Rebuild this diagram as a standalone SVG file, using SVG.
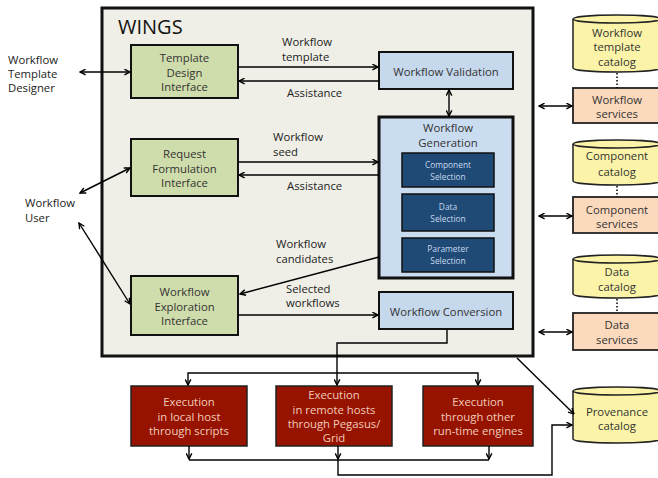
<svg xmlns="http://www.w3.org/2000/svg" width="658" height="478" viewBox="0 0 658 478">
<defs>
<marker id="ah" viewBox="0 0 10 10" refX="9" refY="5" markerWidth="7" markerHeight="7" markerUnits="userSpaceOnUse" orient="auto-start-reverse">
<path d="M1,1 L9,5 L1,9" fill="none" stroke="#000" stroke-width="2"/>
</marker>
<style>
text{font-family:"Open Sans","Liberation Sans",sans-serif;font-size:11.3px;fill:#333}
.c{text-anchor:middle}
.lbl{fill:#222}
.sm{font-size:8.4px;fill:#c9d8ee}
.ex{fill:#f3cbbd;font-size:11.3px}
.line{fill:none;stroke:#000;stroke-width:1.4}
.arr{marker-end:url(#ah)}
.dbl{marker-start:url(#ah);marker-end:url(#ah)}
.green{fill:#cfdcab;stroke:#111;stroke-width:2}
.blue{fill:#c6d8ec;stroke:#111;stroke-width:2}
.dark{fill:#1e4a75;stroke:#111;stroke-width:1.5}
.red{fill:#961300;stroke:#222;stroke-width:1.5}
.cyl{fill:#fbf4a8;stroke:#222;stroke-width:1.5}
.svc{fill:#fbd9bd;stroke:#222;stroke-width:1.8}
.dot{stroke:#000;stroke-width:1.5;stroke-dasharray:1.5,2}
</style>
</defs>
<rect width="658" height="478" fill="#fff"/>

<g id="wings">
<rect x="102" y="8" width="431" height="348" fill="#efefe7" stroke="#111" stroke-width="3"/>
<text x="118" y="34" style="font-size:20px;fill:#111">WINGS</text>
</g>

<g id="actor-designer">
<text x="8" y="64" class="lbl">Workflow</text>
<text x="8" y="78" class="lbl">Template</text>
<text x="8" y="92" class="lbl">Designer</text>
</g>
<g id="actor-user">
<text x="25" y="207" class="lbl">Workflow</text>
<text x="25" y="222" class="lbl">User</text>
</g>

<g id="template-design">
<rect x="131" y="45" width="107" height="53" class="green"/>
<text x="184.5" y="62" class="c">Template</text>
<text x="184.5" y="77" class="c">Design</text>
<text x="184.5" y="91" class="c">Interface</text>
</g>
<g id="request-formulation">
<rect x="131" y="139" width="107" height="57" class="green"/>
<text x="184.5" y="158" class="c">Request</text>
<text x="184.5" y="173" class="c">Formulation</text>
<text x="184.5" y="187" class="c">Interface</text>
</g>
<g id="workflow-exploration">
<rect x="131" y="276" width="107" height="59" class="green"/>
<text x="184.5" y="296" class="c">Workflow</text>
<text x="184.5" y="311" class="c">Exploration</text>
<text x="184.5" y="325" class="c">Interface</text>
</g>

<g id="workflow-validation">
<rect x="379" y="52" width="134" height="37" class="blue"/>
<text x="446" y="76" class="c">Workflow Validation</text>
</g>
<g id="workflow-generation">
<rect x="379" y="117" width="134" height="161" fill="#cadcf0" stroke="#111" stroke-width="3"/>
<text x="448" y="132" class="c">Workflow</text>
<text x="448" y="147" class="c">Generation</text>
</g>
<g id="component-selection">
<rect x="402" y="153" width="92" height="34" class="dark"/>
<text x="448" y="168" class="c sm">Component</text>
<text x="448" y="179.5" class="c sm">Selection</text>
</g>
<g id="data-selection">
<rect x="402" y="194" width="92" height="37" class="dark"/>
<text x="448" y="210" class="c sm">Data</text>
<text x="448" y="221.5" class="c sm">Selection</text>
</g>
<g id="parameter-selection">
<rect x="402" y="238" width="92" height="34" class="dark"/>
<text x="448" y="252" class="c sm">Parameter</text>
<text x="448" y="263.5" class="c sm">Selection</text>
</g>
<g id="workflow-conversion">
<rect x="379" y="292" width="134" height="37" class="blue"/>
<text x="446" y="316" class="c">Workflow Conversion</text>
</g>

<g id="exec-local">
<rect x="131" y="386" width="116" height="60" class="red"/>
<text x="189" y="406" class="c ex">Execution</text>
<text x="189" y="421" class="c ex">in local host</text>
<text x="189" y="435" class="c ex">through scripts</text>
</g>
<g id="exec-remote">
<rect x="276" y="386" width="116" height="60" class="red"/>
<text x="334" y="399" class="c ex">Execution</text>
<text x="334" y="414" class="c ex">in remote hosts</text>
<text x="334" y="428" class="c ex">through Pegasus/</text>
<text x="334" y="442" class="c ex">Grid</text>
</g>
<g id="exec-other">
<rect x="423" y="386" width="110" height="60" class="red"/>
<text x="478" y="406" class="c ex">Execution</text>
<text x="478" y="421" class="c ex">through other</text>
<text x="478" y="435" class="c ex">run-time engines</text>
</g>

<g id="workflow-template-catalog">
<path d="M573,19 A44,4 0 0,1 661,19 V68 A44,4 0 0,1 573,68 Z" class="cyl"/>
<path d="M573,19 A44,4 0 0,0 661,19" class="cyl" fill="none"/>
<text x="617" y="37" class="c">Workflow</text>
<text x="617" y="51" class="c">template</text>
<text x="617" y="66" class="c">catalog</text>
</g>
<g id="workflow-services">
<rect x="573" y="88" width="88" height="35" class="svc"/>
<text x="617" y="104" class="c">Workflow</text>
<text x="617" y="118" class="c">services</text>
</g>
<g id="component-catalog">
<path d="M573,144 A44,4 0 0,1 661,144 V181 A44,4 0 0,1 573,181 Z" class="cyl"/>
<path d="M573,144 A44,4 0 0,0 661,144" class="cyl" fill="none"/>
<text x="617" y="160" class="c">Component</text>
<text x="617" y="176" class="c">catalog</text>
</g>
<g id="component-services">
<rect x="573" y="197" width="88" height="36" class="svc"/>
<text x="617" y="214" class="c">Component</text>
<text x="617" y="228" class="c">services</text>
</g>
<g id="data-catalog">
<path d="M573,259 A44,4 0 0,1 661,259 V294 A44,4 0 0,1 573,294 Z" class="cyl"/>
<path d="M573,259 A44,4 0 0,0 661,259" class="cyl" fill="none"/>
<text x="617" y="276" class="c">Data</text>
<text x="617" y="291" class="c">catalog</text>
</g>
<g id="data-services">
<rect x="573" y="313" width="88" height="37" class="svc"/>
<text x="617" y="329" class="c">Data</text>
<text x="617" y="344" class="c">services</text>
</g>
<g id="provenance-catalog">
<path d="M573,391 A44,4 0 0,1 661,391 V439 A44,4 0 0,1 573,439 Z" class="cyl"/>
<path d="M573,391 A44,4 0 0,0 661,391" class="cyl" fill="none"/>
<text x="617" y="416" class="c">Provenance</text>
<text x="617" y="430" class="c">catalog</text>
</g>

<g id="labels">
<text x="282" y="46" class="lbl">Workflow</text>
<text x="282" y="61" class="lbl">template</text>
<text x="287" y="97" class="lbl">Assistance</text>
<text x="273" y="141" class="lbl">Workflow</text>
<text x="273" y="156" class="lbl">seed</text>
<text x="287" y="190" class="lbl">Assistance</text>
<text x="276" y="248" class="lbl">Workflow</text>
<text x="276" y="263" class="lbl">candidates</text>
<text x="286" y="293" class="lbl">Selected</text>
<text x="286" y="307" class="lbl">workflows</text>
</g>

<g id="connectors">
<line x1="80" y1="72" x2="130" y2="72" class="line dbl"/>
<line x1="80" y1="193" x2="130" y2="168" class="line dbl"/>
<line x1="79" y1="223" x2="130" y2="304" class="line dbl"/>
<line x1="238" y1="67" x2="378" y2="67" class="line arr"/>
<line x1="379" y1="81" x2="239" y2="81" class="line arr"/>
<line x1="449" y1="90" x2="449" y2="116" class="line dbl"/>
<line x1="238" y1="162" x2="378" y2="162" class="line arr"/>
<line x1="379" y1="175" x2="239" y2="175" class="line arr"/>
<line x1="379" y1="257" x2="240" y2="294" class="line arr"/>
<line x1="238" y1="315" x2="378" y2="315" class="line arr"/>
<line x1="539" y1="106" x2="572" y2="106" class="line dbl"/>
<line x1="539" y1="216" x2="572" y2="216" class="line dbl"/>
<line x1="539" y1="332" x2="572" y2="332" class="line dbl"/>
<line x1="617" y1="73" x2="617" y2="88" class="dot"/>
<line x1="617" y1="186" x2="617" y2="197" class="dot"/>
<line x1="617" y1="299" x2="617" y2="313" class="dot"/>
<polyline points="447,330 447,343 337,343 337,385" class="line arr"/>
<polyline points="188,385 188,373 478,373 478,385" class="line dbl"/>
<line x1="189" y1="446" x2="189" y2="459" class="line arr"/>
<line x1="338" y1="446" x2="338" y2="459" class="line arr"/>
<line x1="489" y1="446" x2="489" y2="459" class="line arr"/>
<line x1="189" y1="460" x2="489" y2="460" class="line"/>
<polyline points="338,460 338,475 552,475 552,425 572,425" class="line arr"/>
<line x1="517" y1="358" x2="574" y2="414" class="line arr"/>
</g>
</svg>
